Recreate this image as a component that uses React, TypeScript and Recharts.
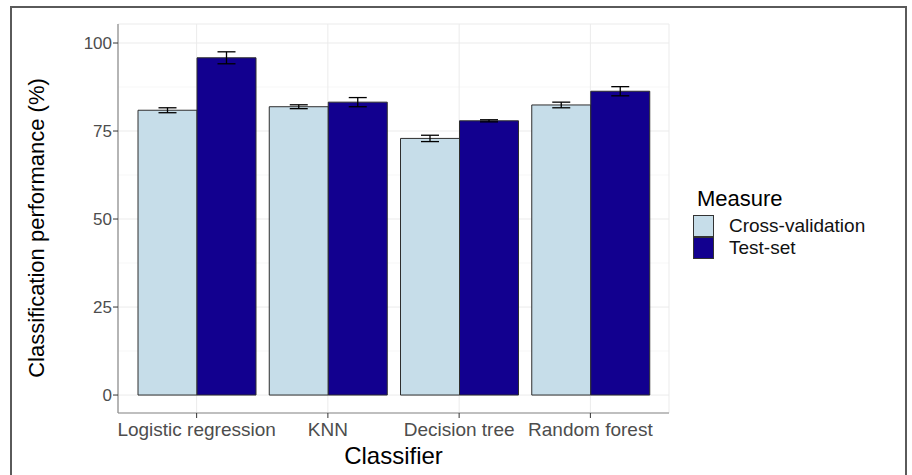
import React from 'react';
import { BarChart, Bar, XAxis, YAxis, CartesianGrid, ErrorBar, Legend } from 'recharts';

const classifiers = ['Logistic regression', 'KNN', 'Decision tree', 'Random forest'];
const crossValidation = [80.9, 81.9, 72.9, 82.4];
const crossValidationErr = [0.7, 0.55, 0.9, 0.8];
const testSet = [95.8, 83.2, 77.9, 86.3];
const testSetErr = [1.7, 1.3, 0.3, 1.3];
const yTicks = [0, 25, 50, 75, 100];
const yMinorTicks = [12.5, 37.5, 62.5, 87.5];

const LIGHT = '#c6dde9';
const DARK = '#12008f';
const FONT = '"Liberation Sans", Arial, sans-serif';

const data = classifiers.map((name, i) => ({
  name,
  cv: crossValidation[i],
  cvErr: crossValidationErr[i],
  test: testSet[i],
  testErr: testSetErr[i],
}));

const legendItems = [
  { label: 'Cross-validation', color: LIGHT },
  { label: 'Test-set', color: DARK },
];

const renderLegend = () => (
  <div style={{ fontFamily: FONT, color: '#000' }}>
    <div style={{ fontSize: 22, lineHeight: '24px', marginBottom: 4, marginLeft: 4 }}>Measure</div>
    {legendItems.map(item => (
      <div key={item.label} style={{ display: 'flex', alignItems: 'center', height: 22 }}>
        <div
          style={{
            width: 21,
            height: 22,
            boxSizing: 'border-box',
            background: item.color,
            border: '1px solid #333',
          }}
        />
        <span style={{ fontSize: 19, marginLeft: 15, color: '#111' }}>{item.label}</span>
      </div>
    ))}
  </div>
);

const YTitle = (props: any) => {
  const { viewBox } = props;
  const x = viewBox.x - 12;
  const y = 228;
  return (
    <text
      x={x}
      y={y}
      transform={`rotate(-90, ${x}, ${y})`}
      textAnchor="middle"
      dominantBaseline="central"
      fontSize={22}
      fontFamily={FONT}
      fill="#000"
    >
      Classification performance (%)
    </text>
  );
};

const XTitle = (props: any) => {
  const { viewBox } = props;
  return (
    <text
      x={393.5}
      y={viewBox.y + 51}
      textAnchor="middle"
      fontSize={24}
      fontFamily={FONT}
      fill="#000"
    >
      Classifier
    </text>
  );
};

const App: React.FC = () => {
  return (
    <div style={{ position: 'fixed', left: 0, top: 0, width: 912, height: 475, overflow: 'hidden', background: '#fff' }}>
      <div
        style={{
          position: 'absolute',
          left: 10,
          top: 6,
          width: 897,
          height: 490,
          boxSizing: 'border-box',
          border: '2px solid #5a5a5a',
        }}
      />
      <div style={{ position: 'absolute', left: 0, top: 0 }}>
        <BarChart
          width={912}
          height={475}
          data={data}
          margin={{ top: 24, right: 243, bottom: 0, left: 48 }}
          barGap={0}
          barSize={59}
        >
          <CartesianGrid
            horizontalValues={yMinorTicks}
            vertical={false}
            stroke="#f5f5f5"
            strokeWidth={0.8}
          />
          <CartesianGrid stroke="#ebebeb" strokeWidth={1} />
          <XAxis
            dataKey="name"
            height={62}
            padding={{ left: 13, right: 13 }}
            axisLine={{ stroke: '#8a8a8a', strokeWidth: 1.2 }}
            tickLine={{ stroke: '#333' }}
            tickSize={5}
            tickMargin={5}
            interval={0}
            tick={{ fill: '#4d4d4d', fontSize: 19, fontFamily: FONT }}
            label={{ content: <XTitle /> }}
          />
          <XAxis
            xAxisId="top"
            orientation="top"
            dataKey="name"
            height={0}
            tick={false}
            tickLine={false}
            axisLine={{ stroke: '#8a8a8a', strokeWidth: 1.2 }}
          />
          <YAxis
            width={70}
            domain={[-5.1, 105.4]}
            ticks={yTicks}
            allowDataOverflow
            axisLine={{ stroke: '#8a8a8a', strokeWidth: 1.2 }}
            tickLine={{ stroke: '#333' }}
            tickSize={5}
            tickMargin={1}
            tick={{ fill: '#4d4d4d', fontSize: 17, fontFamily: FONT }}
            label={{ content: <YTitle /> }}
          />
          <YAxis
            yAxisId="right"
            orientation="right"
            width={0}
            domain={[-5.1, 105.4]}
            tick={false}
            tickLine={false}
            axisLine={{ stroke: '#8a8a8a', strokeWidth: 1.2 }}
          />
          <Legend
            layout="vertical"
            align="center"
            verticalAlign="middle"
            width={215}
            wrapperStyle={{ left: 693, top: 187 }}
            content={renderLegend}
          />
          <Bar dataKey="cv" name="Cross-validation" fill={LIGHT} stroke="#2e2e2e" strokeWidth={1} isAnimationActive={false}>
            <ErrorBar dataKey="cvErr" width={9} stroke="#000" strokeWidth={1.3} />
          </Bar>
          <Bar dataKey="test" name="Test-set" fill={DARK} stroke="#2e2e2e" strokeWidth={1} isAnimationActive={false}>
            <ErrorBar dataKey="testErr" width={9} stroke="#000" strokeWidth={1.3} />
          </Bar>
        </BarChart>
      </div>
    </div>
  );
};

export default App;
